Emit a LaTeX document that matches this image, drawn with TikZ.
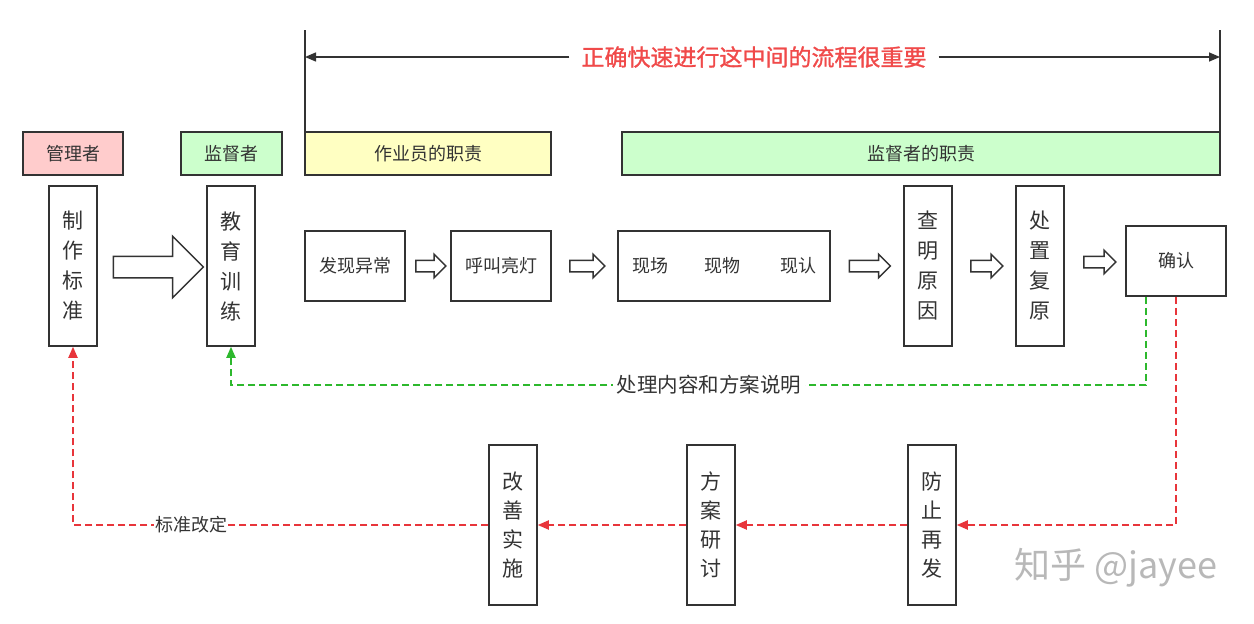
\documentclass[tikz,border=0pt]{standalone}
\usepackage{fontspec}
\setmainfont{Noto Sans CJK SC}
\newfontfamily\titlefont[FakeBold=1.2]{Noto Sans CJK SC}
\usetikzlibrary{shapes.arrows,arrows.meta,calc}
\definecolor{fbred}{HTML}{E8353B}
\definecolor{fbgreen}{HTML}{2DB82D}
\definecolor{titlered}{HTML}{F04A4A}
\definecolor{pinkfill}{HTML}{FFCCCC}
\definecolor{greenfill}{HTML}{CCFFCC}
\definecolor{yellowfill}{HTML}{FFFFC2}
\definecolor{ink}{HTML}{333333}
\begin{document}
\begin{tikzpicture}[x=1pt,y=-1pt,
  box/.style={draw=ink, line width=1.5pt, fill=white, inner sep=0pt, text=ink,
    font=\fontsize{18}{20}\selectfont},
  headbox/.style={box, minimum height=43pt},
  tallbox/.style={box, minimum width=48pt, minimum height=160pt, align=center,
    font=\fontsize{21}{30}\selectfont},
  widebox/.style={box, minimum width=100pt, minimum height=70pt},
  barrow/.style={single arrow, draw=ink, line width=1.5pt, fill=white,
    single arrow tip angle=90, inner xsep=0pt, inner ysep=5pt,
    single arrow head extend=6pt},
  rdash/.style={draw=fbred, line width=1.8pt, dash pattern=on 7pt off 4pt,
    -{Triangle[length=11pt,width=9pt]}},
  gdash/.style={draw=fbgreen, line width=1.8pt, dash pattern=on 7pt off 4pt,
    -{Triangle[length=11pt,width=9pt]}},
  lbl/.style={fill=white, inner sep=2pt, text=ink, font=\fontsize{18}{20}\selectfont},
  dimline/.style={draw=ink, line width=1.5pt},
]
\useasboundingbox (0,0) rectangle (1254,624);

% top dimension
\coordinate (tl) at (305,30);
\coordinate (bl) at (305,132);
\coordinate (tr) at (1220,30);
\coordinate (br) at (1220,132);
\draw[dimline] (tl) -- (bl);
\draw[dimline] (tr) -- (br);
\node[text=titlered, font=\titlefont\fontsize{23}{25}\selectfont, inner xsep=12pt] (title) at (754,57) {正确快速进行这中间的流程很重要};
\coordinate (al) at (305,57);
\coordinate (ar) at (1220,57);
\draw[dimline, -{Triangle[length=11pt,width=9pt]}] (title.west) -- (al);
\draw[dimline, -{Triangle[length=11pt,width=9pt]}] (title.east) -- (ar);

% header boxes
\node[headbox, fill=pinkfill, minimum width=100pt] (mgr) at (73,153.5) {管理者};
\node[headbox, fill=greenfill, minimum width=101pt] (sup) at (231.5,153.5) {监督者};
\node[headbox, fill=yellowfill, minimum width=246pt] (op) at (428,153.5) {作业员的职责};
\node[headbox, fill=greenfill, minimum width=598pt] (supd) at (921,153.5) {监督者的职责};

% top row
\node[tallbox] (zb) at (73,266) {制\\作\\标\\准};
\node[tallbox] (edu) at (231,266) {教\\育\\训\\练};
\node[widebox] (fx) at (355,266) {发现异常};
\node[widebox] (hj) at (501,266) {呼叫亮灯};
\node[box, minimum width=212pt, minimum height=70pt] (xc) at (724,266) {现场\hspace{36pt}现物\hspace{40pt}现认};
\node[tallbox] (cm) at (928,266) {查\\明\\原\\因};
\node[tallbox] (cz) at (1040,266) {处\\置\\复\\原};
\node[widebox] (cf) at (1176,261) {确认};

% block arrows
\node[barrow, inner ysep=10pt, single arrow head extend=20pt, minimum height=90pt] (ba) at (153,267) {};
\node[barrow, minimum height=30pt] (a1) at ($(fx.east)!0.5!(hj.west)$) {};
\node[barrow, minimum height=35pt] (a2) at ($(hj.east)!0.5!(xc.west)$) {};
\node[barrow, minimum height=41pt] (a3) at ($(xc.east)!0.5!(cm.west)$) {};
\node[barrow, minimum height=32pt] (a4) at ($(cm.east)!0.5!(cz.west)$) {};
\node[barrow, minimum height=32pt] (a5) at (1097,262) {};

% bottom row
\node[tallbox, font=\fontsize{21}{29}\selectfont] (fz) at (932,525) {防\\止\\再\\发};
\node[tallbox, font=\fontsize{21}{29}\selectfont] (fa) at (711,525) {方\\案\\研\\讨};
\node[tallbox, font=\fontsize{21}{29}\selectfont] (gs) at (513,525) {改\\善\\实\\施};

% green feedback
\coordinate (gy) at (0,385);
\draw[gdash] ([xshift=-30pt]cf.south) |- (edu.south |- gy) -- (edu.south);
\node[lbl, font=\fontsize{20.5}{22}\selectfont, inner xsep=4pt] (glbl) at (709,385) {处理内容和方案说明};

% red feedback
\draw[rdash] (cf.south) |- (fz.east);
\draw[rdash] (fz.west) -- (fa.east);
\draw[rdash] (fa.west) -- (gs.east);
\draw[rdash] (gs.west) -| (zb.south);
\node[lbl, inner sep=1pt] (rlbl) at (191,525) {标准改定};

% watermark
\node[text=black!28, font=\fontsize{36}{40}\selectfont] (wm) at (1116,568) {知乎 @jayee};
\end{tikzpicture}
\end{document}
